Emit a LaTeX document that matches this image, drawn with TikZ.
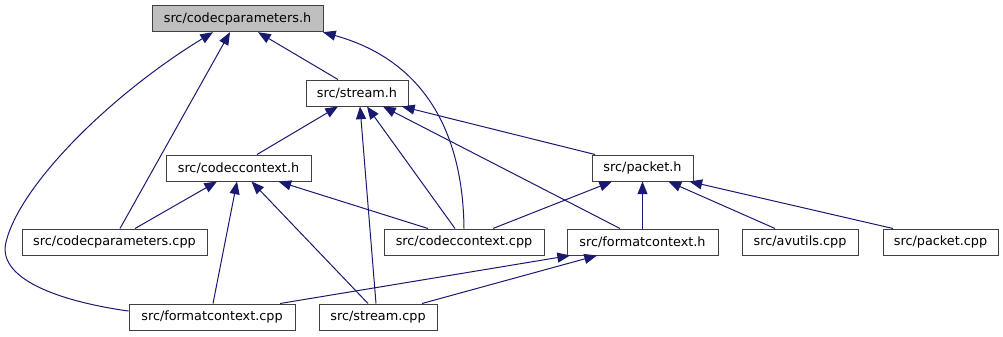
\documentclass[tikz,border=0pt]{standalone}
\usepackage{fontspec}
\setmainfont{DejaVu Sans}
\usetikzlibrary{arrows.meta}
\definecolor{edgeblue}{HTML}{191970}
\definecolor{boxline}{HTML}{404040}
\definecolor{boxhl}{HTML}{BFBFBF}
\begin{document}
\begin{tikzpicture}[x=0.75pt,y=-0.75pt,
  file/.style={draw=boxline,line width=0.75pt,fill=white,rectangle,inner sep=0pt,
    minimum height=26*0.75pt,font=\fontsize{9.6pt}{11pt}\selectfont},
  current/.style={file,fill=boxhl},
  dep/.style={draw=edgeblue,line width=0.75pt,
    -{Triangle[length=9.5pt,width=7.5pt]},fill=none}]
\useasboundingbox (0,0) rectangle (1003,336);

% header and source files
\node[current,minimum width=171*0.75pt] (cph)   at (237.5,18.7) {src/codecparameters.h};
\node[file,minimum width=102*0.75pt]    (sh)    at (357,93)     {src/stream.h};
\node[file,minimum width=145*0.75pt]    (cch)   at (238.5,168)  {src/codeccontext.h};
\node[file,minimum width=101*0.75pt]    (ph)    at (642.5,168)  {src/packet.h};
\node[file,minimum width=185*0.75pt]    (cpcpp) at (114.5,242)  {src/codecparameters.cpp};
\node[file,minimum width=160*0.75pt]    (cccpp) at (464,242)    {src/codeccontext.cpp};
\node[file,minimum width=151*0.75pt]    (fch)   at (642.5,242)  {src/formatcontext.h};
\node[file,minimum width=116*0.75pt]    (avcpp) at (800,242)    {src/avutils.cpp};
\node[file,minimum width=115*0.75pt]    (pcpp)  at (940.5,242)  {src/packet.cpp};
\node[file,minimum width=166*0.75pt]    (fccpp) at (212,317)    {src/formatcontext.cpp};
\node[file,minimum width=118*0.75pt]    (scpp)  at (378,317)    {src/stream.cpp};

% include dependencies (arrow points to the included file)
\draw[dep] ([xshift=-19*0.75pt]sh.north) -- ([xshift=20.5*0.75pt]cph.south);
\draw[dep] ([xshift=5.5*0.75pt]cpcpp.north) -- ([xshift=-7.5*0.75pt]cph.south);
\draw[dep] ([yshift=6*0.75pt]fccpp.west)
  .. controls (70,303) and (-4,282) .. (6,242)
  .. controls (20,185) and (110,95) .. ([xshift=-24.5*0.75pt]cph.south);
\draw[dep] (cccpp.north) .. controls (463,140) and (430,62) .. ([xshift=-0.5*0.75pt]cph.south east);

\draw[dep] ([xshift=18.5*0.75pt]cch.north) -- ([xshift=-19*0.75pt]sh.south);
\draw[dep] ([xshift=-2*0.75pt]scpp.north) -- ([xshift=3*0.75pt]sh.south);
\draw[dep] ([xshift=-9*0.75pt]cccpp.north) -- ([xshift=10*0.75pt]sh.south);
\draw[dep] ([xshift=-22.5*0.75pt]fch.north) -- ([xshift=26*0.75pt]sh.south);
\draw[dep] ([xshift=-47.5*0.75pt]ph.north) -- ([xshift=45*0.75pt]sh.south);

\draw[dep] ([xshift=20.5*0.75pt]cpcpp.north) -- ([xshift=-21.5*0.75pt]cch.south);
\draw[dep] ([xshift=1*0.75pt]fccpp.north) -- ([xshift=-1.5*0.75pt]cch.south);
\draw[dep] ([xshift=-10*0.75pt]scpp.north) -- ([xshift=13*0.75pt]cch.south);
\draw[dep] ([xshift=-36*0.75pt]cccpp.north) -- ([xshift=40*0.75pt]cch.south);

\draw[dep] ([xshift=29*0.75pt]cccpp.north) -- ([xshift=-30.5*0.75pt]ph.south);
\draw[dep] (fch.north) -- (ph.south);
\draw[dep] ([xshift=-25*0.75pt]avcpp.north) -- ([xshift=26*0.75pt]ph.south);
\draw[dep] ([xshift=-47.5*0.75pt]pcpp.north) -- ([xshift=47*0.75pt]ph.south);

\draw[dep] ([xshift=68*0.75pt]fccpp.north) -- ([xshift=-72.5*0.75pt]fch.south);
\draw[dep] ([xshift=44*0.75pt]scpp.north) -- ([xshift=-45.5*0.75pt]fch.south);
\end{tikzpicture}
\end{document}
